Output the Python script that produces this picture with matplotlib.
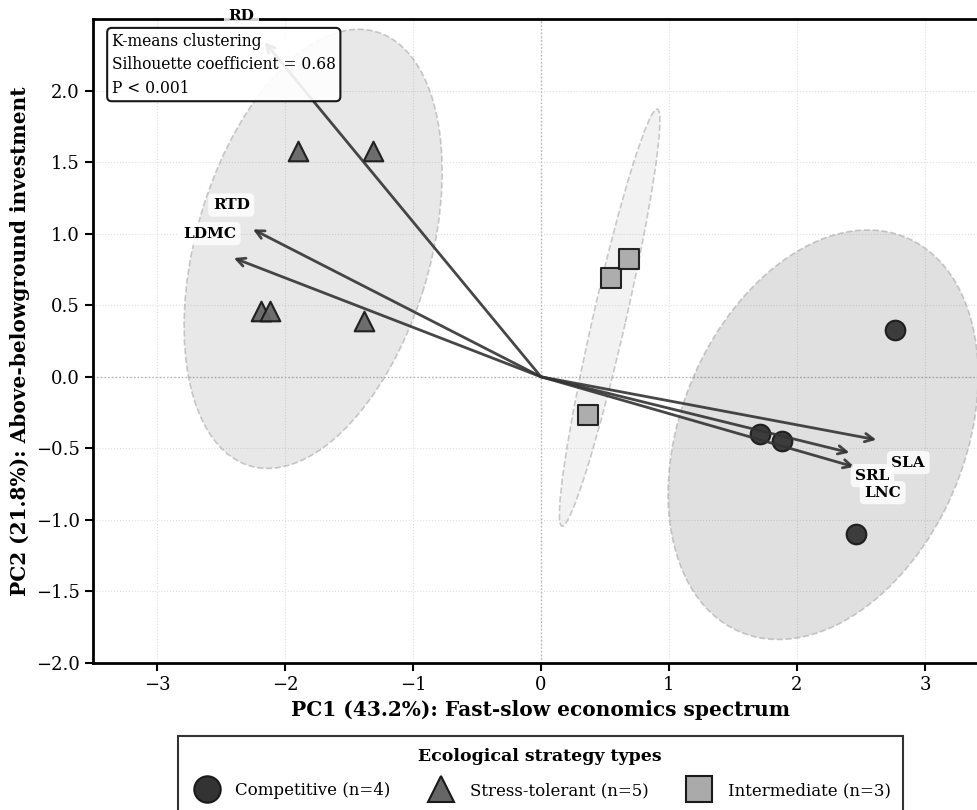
import numpy as np
import matplotlib
matplotlib.use("Agg")
import matplotlib.pyplot as plt
from matplotlib.patches import Ellipse
from matplotlib.lines import Line2D

plt.rcParams['font.family'] = ['DejaVu Serif']

# species scores on PC1 / PC2
comp_x = [2.77, 1.71, 1.88, 2.46]
comp_y = [0.33, -0.40, -0.45, -1.10]
stress_x = [-1.90, -1.31, -2.19, -2.12, -1.38]
stress_y = [1.58, 1.58, 0.46, 0.46, 0.39]
inter_x = [0.37, 0.55, 0.69]
inter_y = [-0.27, 0.69, 0.82]

# trait loadings (arrow tips) and label positions
traits = ['SLA', 'SRL', 'LNC', 'RTD', 'LDMC', 'RD']
load_x = [2.62, 2.41, 2.45, -2.25, -2.40, -2.16]
load_y = [-0.44, -0.53, -0.63, 1.03, 0.83, 2.34]
lab_x = [2.87, 2.59, 2.67, -2.42, -2.59, -2.34]
lab_y = [-0.60, -0.69, -0.81, 1.20, 1.00, 2.52]

groups = ['Competitive (n=4)', 'Stress-tolerant (n=5)', 'Intermediate (n=3)']
colors = ['#333333', '#666666', '#aaaaaa']
markers = ['o', '^', 's']


def conf_ellipse(x, y, ax, color, n_std=2.4477):
    cov = np.cov(x, y)
    vals, vecs = np.linalg.eigh(cov)
    order = vals.argsort()[::-1]
    vals, vecs = vals[order], vecs[:, order]
    angle = np.degrees(np.arctan2(vecs[1, 0], vecs[0, 0]))
    w, h = 2 * n_std * np.sqrt(vals)
    e = Ellipse((np.mean(x), np.mean(y)), w, h, angle=angle,
                facecolor=color, alpha=0.15, zorder=1)
    ax.add_patch(e)
    e2 = Ellipse((np.mean(x), np.mean(y)), w, h, angle=angle, fill=False,
                 edgecolor='#999999', linestyle='--', lw=1.2, alpha=0.5, zorder=1)
    ax.add_patch(e2)


fig = plt.figure(figsize=(9.77, 8.1), dpi=100)
ax = fig.add_axes([0.0952, 0.1815, 0.917, 0.795])

data = [(comp_x, comp_y), (stress_x, stress_y), (inter_x, inter_y)]
for (x, y), c in zip(data, colors):
    conf_ellipse(np.array(x), np.array(y), ax, c)

for (x, y), c, m in zip(data, colors, markers):
    ax.scatter(x, y, s=200, c=c, marker=m, edgecolors='#1a1a1a',
               linewidths=1.5, alpha=0.95, zorder=3)

for i in range(len(traits)):
    ax.annotate('', xy=(load_x[i], load_y[i]), xytext=(0, 0),
                arrowprops=dict(arrowstyle='->', color='#333333', lw=2,
                                alpha=0.9, mutation_scale=15, shrinkA=0, shrinkB=0),
                zorder=4)
    ax.text(lab_x[i], lab_y[i], traits[i], fontsize=11, fontweight='bold',
            ha='center', va='center', zorder=5, clip_on=False,
            bbox=dict(boxstyle='round,pad=0.3', facecolor='white',
                      edgecolor='none', alpha=0.8))

ax.axhline(0, color='gray', linestyle=':', lw=1, alpha=0.6, zorder=0)
ax.axvline(0, color='gray', linestyle=':', lw=1, alpha=0.6, zorder=0)
ax.grid(True, linestyle=':', alpha=0.4)
ax.set_axisbelow(True)

ax.set_xlim(-3.5, 3.5)
ax.set_ylim(-2.0, 2.5)
ax.set_xticks([-3, -2, -1, 0, 1, 2, 3])
ax.set_yticks(np.arange(-2.0, 2.01, 0.5))
ax.set_yticklabels(['−2.0', '−1.5', '−1.0', '−0.5', '0.0', '0.5', '1.0', '1.5', '2.0'])
ax.tick_params(labelsize=13, width=1.5, length=6)
for s in ax.spines.values():
    s.set_linewidth(2)

ax.set_xlabel('PC1 (43.2%): Fast-slow economics spectrum', fontsize=14.5, fontweight='bold')
ax.set_ylabel('PC2 (21.8%): Above-belowground investment', fontsize=14.5, fontweight='bold')

ax.text(0.021, 0.979, 'K-means clustering\nSilhouette coefficient = 0.68\nP < 0.001',
        transform=ax.transAxes, fontsize=11.2, va='top', ha='left', zorder=6,
        linespacing=1.5,
        bbox=dict(boxstyle='round,pad=0.3', facecolor='white', edgecolor='black',
                  lw=1.5, alpha=0.9))

handles = [Line2D([], [], linestyle='none', marker=m, markersize=19,
                  markerfacecolor=c, markeredgecolor='#1a1a1a', markeredgewidth=1.5)
           for c, m in zip(colors, markers)]
leg = fig.legend(handles, groups, loc='upper center', bbox_to_anchor=(0.553, 0.0914),
                 ncol=3, fontsize=12, title='Ecological strategy types',
                 title_fontproperties={'weight': 'bold', 'size': 12.5},
                 frameon=True, fancybox=False, edgecolor='black',
                 handletextpad=0.7, columnspacing=2.05, borderpad=0.75,
                 labelspacing=1.0, borderaxespad=0)
leg.get_frame().set_linewidth(1.5)

fig.savefig('out.png', dpi=100)
